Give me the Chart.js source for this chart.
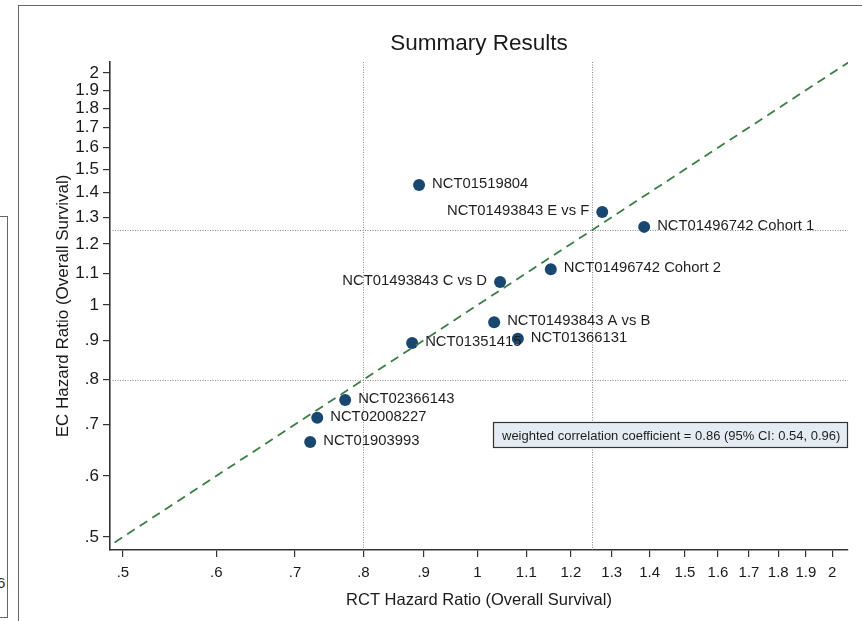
<!DOCTYPE html>
<html>
<head>
<meta charset="utf-8">
<script src="https://cdn.jsdelivr.net/npm/chart.js@4.4.0/dist/chart.umd.min.js"></script>
<style>
  html, body { margin: 0; padding: 0; background: #fff; overflow: hidden; }
  #wrap { position: relative; width: 862px; height: 621px; }
  #frame { position: absolute; left: 18px; top: 5px; width: 900px; height: 700px; border: 1.5px solid #666; }
  #side { position: absolute; left: -12px; top: 216px; width: 18px; height: 400px; border: 1px solid #666; }
  #sideTxt { position: absolute; left: -3px; top: 574px; font: 15px 'Liberation Sans', Arial, sans-serif; color: #333; }
  canvas { position: absolute; left: 0; top: 0; }
</style>
</head>
<body>
<div id="wrap">
  <div id="frame"></div>
  <div id="side"></div>
  <div id="sideTxt">6</div>
  <canvas id="chart" width="862" height="621"></canvas>
</div>
<script>
// trial names and hazard ratios (RCT vs external control)
const trials = ["NCT01519804", "NCT01493843 E vs F", "NCT01496742 Cohort 1", "NCT01496742 Cohort 2",
  "NCT01493843 C vs D", "NCT01493843 A vs B", "NCT01366131", "NCT01351415",
  "NCT02366143", "NCT02008227", "NCT01903993"];
const rctHR = [0.892, 1.276, 1.385, 1.154, 1.045, 1.033, 1.082, 0.880, 0.772, 0.731, 0.721];
const ecHR  = [1.431, 1.320, 1.263, 1.113, 1.071, 0.950, 0.904, 0.893, 0.753, 0.714, 0.664];
// marker label clock position (3 = right, 9 = left)
const labelPos = [3, 9, 3, 3, 9, 3, 3, 3, 3, 3, 3];

const xTicks = [0.5, 0.6, 0.7, 0.8, 0.9, 1, 1.1, 1.2, 1.3, 1.4, 1.5, 1.6, 1.7, 1.8, 1.9, 2];
const xTickLabels = [".5", ".6", ".7", ".8", ".9", "1", "1.1", "1.2", "1.3", "1.4", "1.5", "1.6", "1.7", "1.8", "1.9", "2"];
const yTicks = [0.5, 0.6, 0.7, 0.8, 0.9, 1, 1.1, 1.2, 1.3, 1.4, 1.5, 1.6, 1.7, 1.8, 1.9, 2];
const yTickLabels = [".5", ".6", ".7", ".8", ".9", "1", "1.1", "1.2", "1.3", "1.4", "1.5", "1.6", "1.7", "1.8", "1.9", "2"];
const xLimits = [0.4875, 2.063];
const yLimits = [0.481, 2.067];
const refLines = [0.8, 1.25];          // dotted equivalence bounds
const identityLine = [0.48, 2.07];     // y = x
const corrText = "weighted correlation coefficient = 0.86 (95% CI: 0.54, 0.96)";
const titleText = "Summary Results";

const FONT = "'Liberation Sans', Arial, Helvetica, sans-serif";

const overlay = {
  id: "overlay",
  beforeDatasetsDraw(chart) {
    const { ctx, chartArea: a, scales: { x, y } } = chart;
    ctx.save();
    ctx.strokeStyle = "#8a8a8a";
    ctx.lineWidth = 1;
    ctx.setLineDash([1, 1.5]);
    refLines.forEach(v => {
      const px = Math.round(x.getPixelForValue(v)) + 0.5;
      ctx.beginPath(); ctx.moveTo(px, a.top); ctx.lineTo(px, a.bottom); ctx.stroke();
      const py = Math.round(y.getPixelForValue(v)) + 0.5;
      ctx.beginPath(); ctx.moveTo(a.left, py); ctx.lineTo(a.right, py); ctx.stroke();
    });
    ctx.restore();
  },
  afterDatasetsDraw(chart) {
    const { ctx, chartArea: a } = chart;
    const meta = chart.getDatasetMeta(1);
    ctx.save();
    ctx.font = "14.8px " + FONT;
    ctx.fillStyle = "#1e1e1e";
    ctx.textBaseline = "middle";
    meta.data.forEach((pt, i) => {
      if (labelPos[i] === 9) {
        ctx.textAlign = "right";
        ctx.fillText(trials[i], pt.x - 13, pt.y - 1);
      } else {
        ctx.textAlign = "left";
        ctx.fillText(trials[i], pt.x + 13, pt.y - 1);
      }
    });
    // correlation box
    const bx = 493, bw = a.right - bx, by = 422, bh = 26;
    ctx.fillStyle = "#e4ebf2";
    ctx.fillRect(bx, by, bw, bh);
    ctx.strokeStyle = "#333";
    ctx.lineWidth = 1.2;
    ctx.strokeRect(bx + 0.5, by + 0.5, bw - 1, bh - 1);
    ctx.fillStyle = "#1e1e1e";
    ctx.font = "13px " + FONT;
    ctx.textAlign = "left";
    ctx.fillText(corrText, bx + 9, by + bh / 2 + 1);
    // title
    ctx.font = "22.5px " + FONT;
    ctx.textAlign = "center";
    ctx.fillStyle = "#1a1a1a";
    ctx.fillText(titleText, (a.left + a.right) / 2, 44);
    ctx.restore();
  }
};

new Chart(document.getElementById("chart"), {
  type: "scatter",
  data: {
    datasets: [
      {
        data: identityLine.map(v => ({ x: v, y: v })),
        showLine: true,
        borderColor: "#3b7d45",
        borderWidth: 1.8,
        borderDash: [9, 6],
        pointRadius: 0,
        fill: false
      },
      {
        data: rctHR.map((v, i) => ({ x: v, y: ecHR[i] })),
        backgroundColor: "#1a476f",
        borderWidth: 0,
        pointRadius: 6
      }
    ]
  },
  options: {
    responsive: false,
    devicePixelRatio: 1,
    animation: false,
    layout: { padding: { left: 20, right: 14, top: 62, bottom: 0 } },
    plugins: { legend: { display: false }, tooltip: { enabled: false } },
    scales: {
      x: {
        type: "logarithmic",
        min: xLimits[0],
        max: xLimits[1],
        afterBuildTicks: s => { s.ticks = xTicks.map(v => ({ value: v })); },
        afterFit: s => { s.height = 71; },
        ticks: {
          callback: (v, i) => xTickLabels[i],
          font: { family: FONT, size: 15 },
          color: "#1a1a1a",
          padding: 7,
          maxRotation: 0,
          autoSkip: false
        },
        grid: { drawOnChartArea: false, drawTicks: true, tickLength: 7, color: "#333", lineWidth: 1.2 },
        border: { color: "#333", width: 1.6 },
        title: {
          display: true,
          text: "RCT Hazard Ratio (Overall Survival)",
          font: { family: FONT, size: 16.5 },
          color: "#1a1a1a",
          padding: { top: 0, bottom: 11 }
        }
      },
      y: {
        type: "logarithmic",
        min: yLimits[0],
        max: yLimits[1],
        afterBuildTicks: s => { s.ticks = yTicks.map(v => ({ value: v })); },
        afterFit: s => { s.width = 90; },
        ticks: {
          callback: (v, i) => yTickLabels[i],
          font: { family: FONT, size: 17 },
          color: "#1a1a1a",
          padding: 4
        },
        grid: { drawOnChartArea: false, drawTicks: true, tickLength: 7, color: "#333", lineWidth: 1.2 },
        border: { color: "#333", width: 1.6 },
        title: {
          display: true,
          text: "EC Hazard Ratio (Overall Survival)",
          font: { family: FONT, size: 17 },
          color: "#1a1a1a",
          padding: { top: 33, bottom: 0 }
        }
      }
    }
  },
  plugins: [overlay]
});
</script>
</body>
</html>
